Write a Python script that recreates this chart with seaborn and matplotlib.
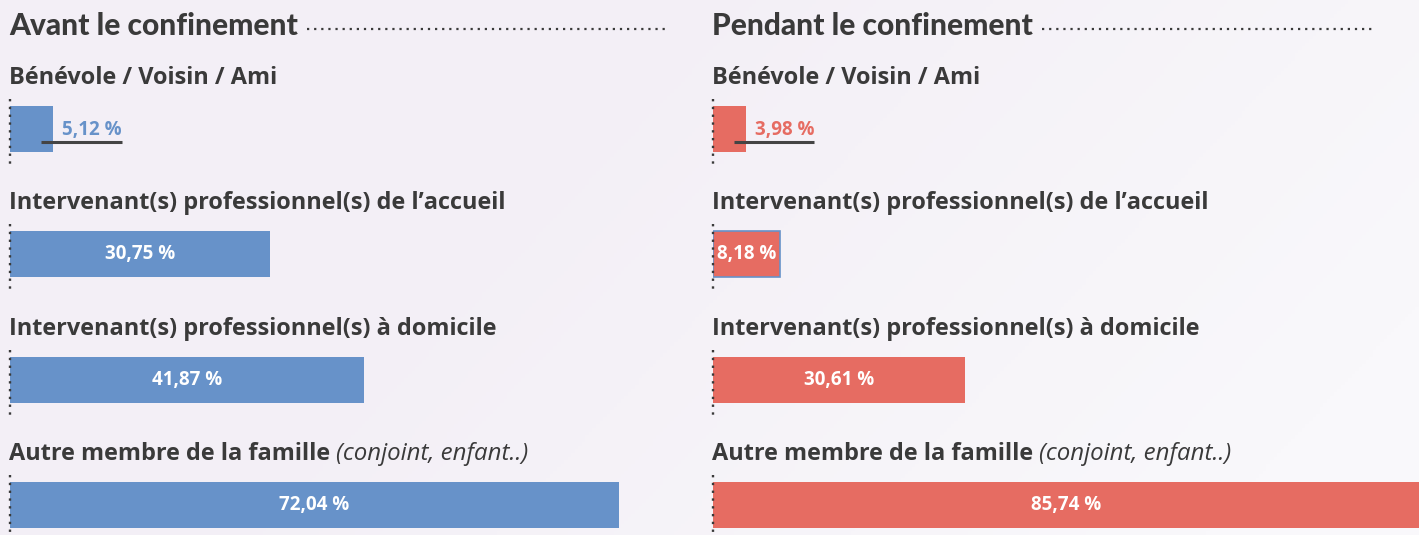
import numpy as np
import matplotlib
matplotlib.use("Agg")
import matplotlib.pyplot as plt
from matplotlib.lines import Line2D
import seaborn as sns

# ---- data -------------------------------------------------------------
categories = [
    "Bénévole / Voisin / Ami",
    "Intervenant(s) professionnel(s) de l’accueil",
    "Intervenant(s) professionnel(s) à domicile",
    "Autre membre de la famille",
]
category_notes = ["", "", "", "(conjoint, enfant..)"]
avant = [5.12, 30.75, 41.87, 72.04]
pendant = [3.98, 8.18, 30.61, 85.74]
panel_titles = ["Avant le confinement", "Pendant le confinement"]

# ---- style ------------------------------------------------------------
BLUE = "#6792c9"
RED = "#e66c62"
INK = "#3a3a3a"
RULE = "#444444"

sns.set_theme(style="white")
plt.rcParams["font.family"] = ["Open Sans", "DejaVu Sans"]

W, H = 1419, 535
fig = plt.figure(figsize=(W / 100, H / 100), dpi=100)

# soft lavender-to-white background
bg = fig.add_axes([0, 0, 1, 1], zorder=-10)
xx, yy = np.meshgrid(np.linspace(0, 1, 400), np.linspace(0, 1, 150))
t = np.clip((xx + 0.35 * yy - 0.45) / 0.75, 0, 1)[..., None]
c0 = np.array([243, 239, 246]) / 255
c1 = np.array([249, 248, 251]) / 255
bg.imshow(c0 * (1 - t) + c1 * t, aspect="auto", extent=[0, 1, 1, 0])
bg.set_axis_off()

# vertical layout: row centres at 129 px, step 125.3 px
ROW0, STEP = 129, 125.33
ylim = ((H - ROW0) / STEP, -ROW0 / STEP)
BAR_H = 46 / STEP


def draw_panel(left_px, width_px, xmax, values, color, title, dots_end_px, edge_idx=None):
    ax = fig.add_axes([left_px / W, 0, width_px / W, 1])
    ax.patch.set_alpha(0)
    sns.barplot(x=values, y=categories, orient="h", color=color, saturation=1,
                width=BAR_H, linewidth=0, ax=ax)
    ax.set_xlim(0, xmax)
    ax.set_ylim(*ylim)
    ax.set_axis_off()
    pxper = width_px / xmax

    if edge_idx is not None:
        p = ax.patches[edge_idx]
        p.set_edgecolor(BLUE)
        p.set_linewidth(1.2)

    pos = np.arange(len(categories))
    # dotted axis stubs beside each bar
    ax.vlines(np.zeros(len(pos)), pos - 0.24, pos + 0.32, colors=INK,
              linestyles=(0, (1, 2.3)), lw=1.7, clip_on=False, zorder=5)

    fig.canvas.draw()
    inv = ax.transData.inverted()

    for i, (cat, note, v) in enumerate(zip(categories, category_notes, values)):
        lab = ax.text(-1 / pxper, i - 0.36, cat, fontsize=16.9, fontweight="bold",
                      color=INK, ha="left", va="baseline")
        if note:
            ax.annotate(note, xy=(1, 0), xycoords=lab, xytext=(4, 0),
                        textcoords="offset points", fontsize=17.3, style="italic",
                        color=INK, ha="left", va="bottom")
        txt = f"{v:.2f}".replace(".", ",") + " %"
        if v >= 7:
            ax.text(v / 2, i, txt, ha="center", va="center", color="white",
                    fontsize=13.5, fontweight="bold", zorder=6)
        else:
            vt = ax.text(v + 9 / pxper, i + 0.01, txt, ha="left", va="center",
                         color=color, fontsize=13.5, fontweight="bold", zorder=6)
            fig.canvas.draw()
            bb = vt.get_window_extent()
            x1 = inv.transform((bb.x1, bb.y0))[0]
            ax.plot([v - 12 / pxper, x1], [i + 0.105, i + 0.105], color=RULE,
                    lw=2.2, solid_capstyle="butt", zorder=7)

    # panel heading with dotted leader
    ht = fig.text((left_px - 1) / W, 1 - 35 / H, title, fontsize=21.5,
                  fontweight=900, family=["Lato", "DejaVu Sans"], color=INK,
                  ha="left", va="baseline")
    fig.canvas.draw()
    hb = ht.get_window_extent()
    fig.add_artist(Line2D([(hb.x1 + 9) / W, dots_end_px / W],
                          [1 - 29 / H, 1 - 29 / H], transform=fig.transFigure,
                          color=INK, lw=1.6, linestyle=(0, (1, 2.2))))
    return ax


draw_panel(10, 680, 680 / 8.45, avant, BLUE, panel_titles[0], 666)
draw_panel(713, 706, 85.74, pendant, RED, panel_titles[1], 1372, edge_idx=1)

fig.savefig("out.png", dpi=100)
